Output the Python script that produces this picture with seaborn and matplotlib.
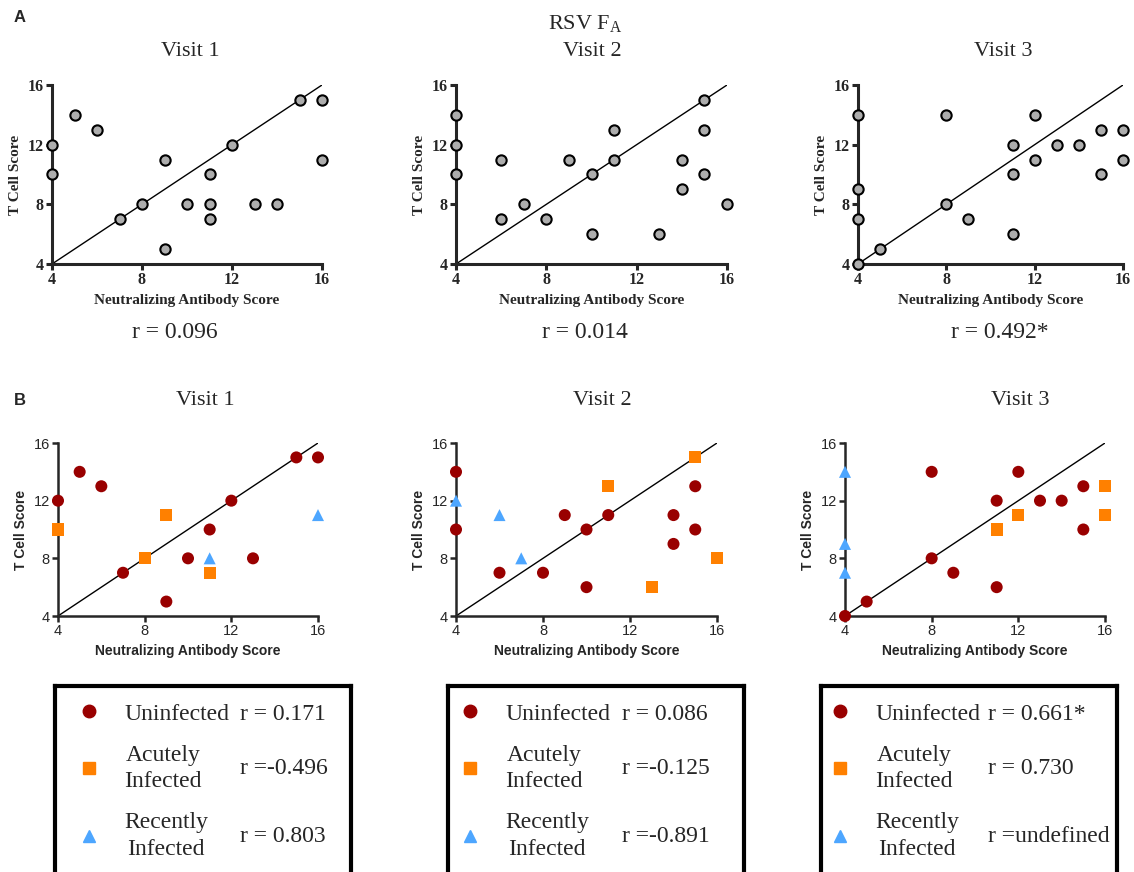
"""RSV F_A: T cell score vs neutralizing antibody score, per visit.

Panel A shows all subjects, panel B splits them by infection status.
"""

import matplotlib.pyplot as plt
import pandas as pd
import seaborn as sns
from matplotlib.lines import Line2D

# ---- data ------------------------------------------------------------------
VISITS = ["Visit 1", "Visit 2", "Visit 3"]
TICKS = [4, 8, 12, 16]
IDENTITY = [4, 16]

# Panel A (all subjects)
A_V1_X = [4, 4, 5, 6, 7, 8, 9, 9, 10, 11, 11, 11, 12, 13, 14, 15, 16, 16]
A_V1_Y = [12, 10, 14, 13, 7, 8, 11, 5, 8, 10, 8, 7, 12, 8, 8, 15, 15, 11]
A_V2_X = [4, 4, 4, 6, 6, 7, 8, 9, 10, 10, 11, 11, 13, 14, 14, 15, 15, 15, 16]
A_V2_Y = [14, 12, 10, 11, 7, 8, 7, 11, 10, 6, 13, 11, 6, 11, 9, 15, 13, 10, 8]
A_V3_X = [4, 4, 4, 4, 5, 8, 8, 9, 11, 11, 11, 12, 12, 13, 14, 15, 15, 16, 16]
A_V3_Y = [14, 9, 7, 4, 5, 14, 8, 7, 12, 10, 6, 14, 11, 12, 12, 13, 10, 13, 11]
A_R = ["r = 0.096", "r = 0.014", "r = 0.492*"]

# Panel B (by infection status)
GROUPS = ["Uninfected", "Acutely Infected", "Recently Infected"]
GROUP_LABELS = ["Uninfected", "Acutely\nInfected", "Recently\nInfected"]

B_V1_UNINF_X = [4, 5, 6, 7, 9, 10, 11, 12, 13, 15, 16]
B_V1_UNINF_Y = [12, 14, 13, 7, 5, 8, 10, 12, 8, 15, 15]
B_V1_ACUTE_X = [4, 8, 9, 11]
B_V1_ACUTE_Y = [10, 8, 11, 7]
B_V1_RECENT_X = [11, 16]
B_V1_RECENT_Y = [8, 11]

B_V2_UNINF_X = [4, 4, 6, 8, 9, 10, 10, 11, 14, 14, 15, 15]
B_V2_UNINF_Y = [14, 10, 7, 7, 11, 10, 6, 11, 11, 9, 13, 10]
B_V2_ACUTE_X = [11, 13, 15, 16]
B_V2_ACUTE_Y = [13, 6, 15, 8]
B_V2_RECENT_X = [4, 6, 7]
B_V2_RECENT_Y = [12, 11, 8]

B_V3_UNINF_X = [4, 5, 8, 8, 9, 11, 11, 12, 13, 14, 15, 15]
B_V3_UNINF_Y = [4, 5, 14, 8, 7, 12, 6, 14, 12, 12, 13, 10]
B_V3_ACUTE_X = [11, 12, 16, 16]
B_V3_ACUTE_Y = [10, 11, 13, 11]
B_V3_RECENT_X = [4, 4, 4]
B_V3_RECENT_Y = [14, 9, 7]

B_R = [
    ["r = 0.171", "r =-0.496", "r = 0.803"],
    ["r = 0.086", "r =-0.125", "r =-0.891"],
    ["r = 0.661*", "r = 0.730", "r =undefined"],
]

# ---- style -------------------------------------------------------------------
PALETTE = {"Uninfected": "#990000", "Acutely Infected": "#FF8000",
           "Recently Infected": "#4DA6FF"}
MARKERS = {"Uninfected": "o", "Acutely Infected": "s", "Recently Infected": "^"}
SERIF = "Liberation Serif"
SANS = "Liberation Sans"

W, H = 1134, 872


def rect(left, top, right, bottom):
    """Pixel box (from top-left) to figure fraction rect."""
    return [left / W, 1 - bottom / H, (right - left) / W, (bottom - top) / H]


def style_axes(ax, family, bold, spine_w, tick_fs, label_fs):
    ax.set_xlim(4, 16)
    ax.set_ylim(4, 16)
    ax.set_xticks(TICKS)
    ax.set_yticks(TICKS)
    sns.despine(ax=ax)
    for side in ("left", "bottom"):
        ax.spines[side].set_linewidth(spine_w)
    ax.tick_params(width=spine_w, length=4, pad=2, labelsize=tick_fs)
    weight = "bold" if bold else "normal"
    for lab in ax.get_xticklabels() + ax.get_yticklabels():
        lab.set_fontfamily(family)
        lab.set_fontweight(weight)
    ax.set_xlabel("Neutralizing Antibody Score", family=family,
                  fontweight="bold", fontsize=label_fs, labelpad=4)
    ax.set_ylabel("T Cell Score", family=family, fontweight="bold",
                  fontsize=label_fs, labelpad=4)


def main():
    sns.set_style("ticks")
    plt.rcParams["font.family"] = [SERIF, "DejaVu Serif"]
    plt.rcParams["mathtext.fontset"] = "custom"
    plt.rcParams["mathtext.rm"] = SERIF

    fig = plt.figure(figsize=(W / 100, H / 100), dpi=100)

    # ---- panel A ----
    a_data = [(A_V1_X, A_V1_Y), (A_V2_X, A_V2_Y), (A_V3_X, A_V3_Y)]
    a_boxes = [(52, 85, 322, 264), (456, 85, 727, 264), (858, 85, 1123, 264)]
    a_title_x = [190, 592, 1003]
    a_r_x = [175, 585, 1000]
    for i, ((xs, ys), box) in enumerate(zip(a_data, a_boxes)):
        ax = fig.add_axes(rect(*box))
        ax.plot(IDENTITY, IDENTITY, color="black", lw=1, zorder=1)
        sns.scatterplot(x=xs, y=ys, ax=ax, color="#ADADAD", edgecolor="black",
                        linewidth=1.5, s=55, clip_on=False, zorder=3)
        style_axes(ax, SERIF, True, 2.2, 11.5, 11)
        fig.text(a_title_x[i] / W, 1 - 51 / H, VISITS[i], ha="center",
                 va="center", fontsize=16)
        fig.text(a_r_x[i] / W, 1 - 333 / H, A_R[i], ha="center", va="center",
                 fontsize=17)

    fig.text(585 / W, 1 - 24 / H, r"RSV F$_{\mathrm{A}}$", ha="center",
             va="center", fontsize=16)
    fig.text(20 / W, 1 - 18 / H, "A", family=SANS, fontweight="bold",
             fontsize=12, ha="center", va="center")
    fig.text(20 / W, 1 - 400 / H, "B", family=SANS, fontweight="bold",
             fontsize=12, ha="center", va="center")

    # ---- panel B ----
    b_sets = [
        [(B_V1_UNINF_X, B_V1_UNINF_Y), (B_V1_ACUTE_X, B_V1_ACUTE_Y),
         (B_V1_RECENT_X, B_V1_RECENT_Y)],
        [(B_V2_UNINF_X, B_V2_UNINF_Y), (B_V2_ACUTE_X, B_V2_ACUTE_Y),
         (B_V2_RECENT_X, B_V2_RECENT_Y)],
        [(B_V3_UNINF_X, B_V3_UNINF_Y), (B_V3_ACUTE_X, B_V3_ACUTE_Y),
         (B_V3_RECENT_X, B_V3_RECENT_Y)],
    ]
    b_boxes = [(58, 443, 318, 616), (456, 443, 717, 616), (845, 443, 1105, 616)]
    b_title_x = [205, 602, 1020]
    for i, (groups, box) in enumerate(zip(b_sets, b_boxes)):
        frames = [pd.DataFrame({"x": gx, "y": gy, "group": g})
                  for g, (gx, gy) in zip(GROUPS, groups)]
        df = pd.concat(frames, ignore_index=True)
        ax = fig.add_axes(rect(*box))
        ax.plot(IDENTITY, IDENTITY, color="black", lw=1, zorder=1)
        sns.scatterplot(data=df, x="x", y="y", hue="group", style="group",
                        hue_order=GROUPS, style_order=GROUPS, palette=PALETTE,
                        markers=MARKERS, s=75, linewidth=0, legend=False,
                        clip_on=False, ax=ax, zorder=3)
        style_axes(ax, SANS, False, 1.8, 10.5, 10)
        fig.text(b_title_x[i] / W, 1 - 400 / H, VISITS[i], ha="center",
                 va="center", fontsize=16)

    # ---- legend boxes ----
    handles = [Line2D([], [], linestyle="none", marker=MARKERS[g],
                      markersize=9, color=PALETTE[g]) for g in GROUPS]
    leg_boxes = [(55, 686, 351), (448, 686, 744), (821, 686, 1117)]
    marker_off = [34, 22, 19]
    r_gap = [11, 12, 8]
    fs = 17
    fs_px = fs * 100 / 72
    hl = 1.0
    handle_px = hl * fs_px
    legends = []
    for i, (left, top, right) in enumerate(leg_boxes):
        bottom = 900
        lax = fig.add_axes(rect(left, top, right, bottom))
        lax.set_xticks([])
        lax.set_yticks([])
        for sp in lax.spines.values():
            sp.set_linewidth(3)
            sp.set_color("black")
        bw, bh = right - left, bottom - top
        anchor_x = (marker_off[i] - handle_px / 2) / bw
        text_pad = (35 - handle_px / 2) / fs_px
        leg = lax.legend(handles, GROUP_LABELS, loc="upper left",
                         bbox_to_anchor=(anchor_x, 1 - 17 / bh), frameon=False,
                         borderpad=0, borderaxespad=0, handlelength=hl,
                         handletextpad=text_pad, labelspacing=0.85,
                         prop={"family": SERIF, "size": fs})
        for t in leg.get_texts():
            t.set_multialignment("center")
            t.set_linespacing(1.35)
        legends.append((lax, leg))

    fig.canvas.draw()
    renderer = fig.canvas.get_renderer()
    for i, (lax, leg) in enumerate(legends):
        texts = leg.get_texts()
        x_disp = texts[0].get_window_extent(renderer).x1 + r_gap[i]
        inv = lax.transAxes.inverted()
        for t, r in zip(texts, B_R[i]):
            bb = t.get_window_extent(renderer)
            xa, ya = inv.transform((x_disp, (bb.y0 + bb.y1) / 2))
            lax.text(xa, ya, r, transform=lax.transAxes, va="center",
                     ha="left", fontsize=fs)

    fig.savefig("out.png", dpi=100)
    plt.close(fig)


if __name__ == "__main__":
    main()
